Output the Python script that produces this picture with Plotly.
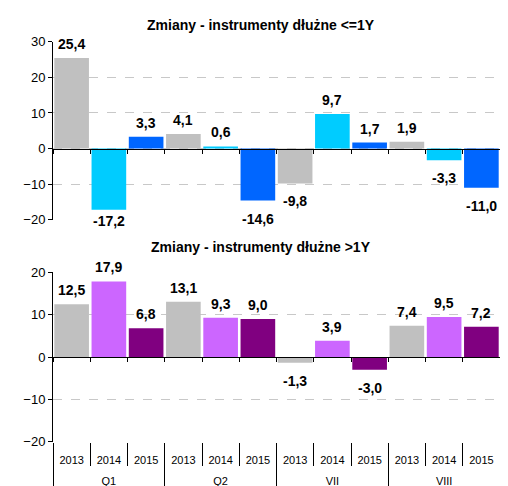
import plotly.graph_objects as go

groups = ["Q1", "Q1", "Q1", "Q2", "Q2", "Q2", "VII", "VII", "VII", "VIII", "VIII", "VIII"]
years = ["2013", "2014", "2015"] * 4
short_vals = [25.4, -17.2, 3.3, 4.1, 0.6, -14.6, -9.8, 9.7, 1.7, 1.9, -3.3, -11.0]
long_vals = [12.5, 17.9, 6.8, 13.1, 9.3, 9.0, -1.3, 3.9, -3.0, 7.4, 9.5, 7.2]
title_short = "Zmiany - instrumenty dłużne <=1Y"
title_long = "Zmiany - instrumenty dłużne >1Y"

short_colors = {"2013": "#C0C0C0", "2014": "#00CCFF", "2015": "#0066FF"}
long_colors = {"2013": "#C0C0C0", "2014": "#CC66FF", "2015": "#800080"}

# page has an 8px body margin, so the figure is 500x478 drawn at (8, 8)
W, H = 500, 478
top_px = (33.5, 212)
bot_px = (264.3, 434)
top_dom = [(H - top_px[1]) / H, (H - top_px[0]) / H]
bot_dom = [(H - bot_px[1]) / H, (H - bot_px[0]) / H]
top_rng = [-20, 30]
bot_rng = [-20, 20]


def zero_pos(dom, rng):
    return dom[0] + (0 - rng[0]) / (rng[1] - rng[0]) * (dom[1] - dom[0])


idx = list(range(len(years)))
bounds = [i - 0.5 for i in range(len(years) + 1)]
group_names = list(dict.fromkeys(groups))
group_pos = [sum(i for i, g in enumerate(groups) if g == n) / groups.count(n) for n in group_names]
group_bounds = [-0.5] + [i + 0.5 for i in range(len(groups) - 1) if groups[i] != groups[i + 1]] + [len(groups) - 0.5]

fig = go.Figure()

fig.add_trace(go.Bar(x=idx, y=short_vals, xaxis="x", yaxis="y",
                     marker=dict(color=[short_colors[y] for y in years], line_width=0)))
fig.add_trace(go.Bar(x=idx, y=long_vals, xaxis="x2", yaxis="y2",
                     marker=dict(color=[long_colors[y] for y in years], line_width=0)))
# helper traces so the overlay axes are drawn
for ax in ["x3", "x4", "x5", "x6"]:
    fig.add_trace(go.Scatter(x=idx, y=[0] * len(idx), xaxis=ax, yaxis="y2", mode="markers",
                             marker=dict(opacity=0), hoverinfo="skip"))

FONT = "Liberation Sans, Arial, sans-serif"
bold = dict(size=14, color="black", family=FONT, weight="bold")
ann = []
for vals, xr, yr, px, rng in [(short_vals, "x", "y", top_px, top_rng), (long_vals, "x2", "y2", bot_px, bot_rng)]:
    ppu = (px[1] - px[0]) / (rng[1] - rng[0])
    for i, v in enumerate(vals):
        shift = 14 if v >= 0 else -min(18, (v - rng[0]) * ppu + 1)
        ann.append(dict(x=i, y=v, xref=xr, yref=yr, yshift=shift, text=f"{v:.1f}".replace(".", ","),
                        showarrow=False, font=bold, xanchor="center", yanchor="middle"))
ann.append(dict(x=0.465, y=(H - 7) / H, xref="paper", yref="paper", text=title_short,
                showarrow=False, font=bold))
ann.append(dict(x=0.465, y=(H - 238.7) / H, xref="paper", yref="paper", text=title_long,
                showarrow=False, font=bold))

yax = dict(tickvals=list(range(-20, 31, 10)), tickfont=dict(size=13, color="black"),
           ticks="outside", ticklen=4, tickcolor="black", showline=True, linecolor="black",
           showgrid=True, gridcolor="#C8C8C8", griddash="dash", zeroline=False, automargin=False)
xbase = dict(range=[-0.5, 11.5], showgrid=False, zeroline=False, automargin=False, showline=False)

fig.update_layout(
    width=W, height=H,
    margin=dict(l=45, r=8, t=0, b=0),
    paper_bgcolor="white", plot_bgcolor="white",
    font=dict(family=FONT, color="black"),
    showlegend=False, bargap=0.07,
    annotations=ann,
    xaxis=dict(xbase, domain=[0, 1], anchor="free", position=zero_pos(top_dom, top_rng),
               tickvals=bounds, showticklabels=False, ticks="outside", ticklen=4, tickcolor="black",
               showline=True, linecolor="black"),
    yaxis=dict(yax, domain=top_dom, range=[top_rng[0] - 0.05, top_rng[1] + 0.05], anchor="x"),
    # year labels
    xaxis2=dict(xbase, domain=[0, 1], anchor="y2", tickvals=idx, ticktext=years,
                ticks="outside", ticklen=8, tickcolor="rgba(0,0,0,0)",
                tickfont=dict(size=11, color="black")),
    yaxis2=dict(yax, domain=bot_dom, range=[bot_rng[0] - 0.05, bot_rng[1] + 0.05], anchor="x2",
                tickvals=list(range(-20, 21, 10))),
    # zero line
    xaxis3=dict(xbase, overlaying="x2", anchor="free", position=zero_pos(bot_dom, bot_rng),
                tickvals=bounds, showticklabels=False, ticks="outside", ticklen=4, tickcolor="black",
                showline=True, linecolor="black"),
    # year separators
    xaxis4=dict(xbase, overlaying="x2", anchor="free", position=bot_dom[0],
                tickvals=bounds, showticklabels=False, ticks="outside", ticklen=23, tickcolor="black"),
    # group separators
    xaxis5=dict(xbase, overlaying="x2", anchor="free", position=bot_dom[0],
                tickvals=group_bounds, showticklabels=False, ticks="outside", ticklen=60, tickcolor="black"),
    # group labels
    xaxis6=dict(xbase, overlaying="x2", anchor="free", position=bot_dom[0],
                tickvals=group_pos, ticktext=group_names, ticks="outside", ticklen=29,
                tickcolor="rgba(0,0,0,0)", tickfont=dict(size=11, color="black")),
)

fig.write_html("out.html")
